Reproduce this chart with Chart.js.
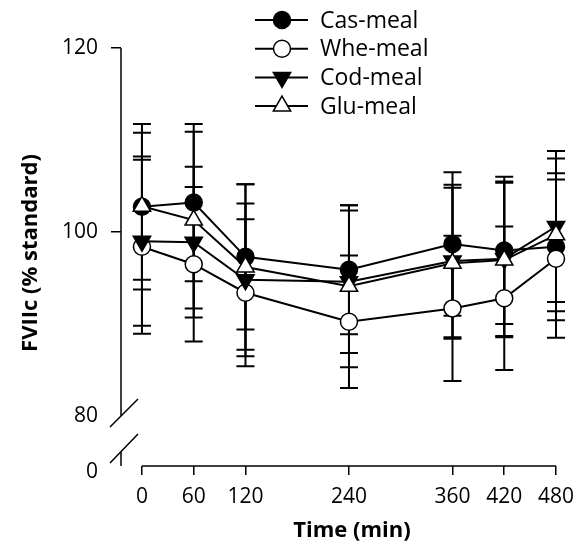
<!DOCTYPE html>
<html>
<head>
<meta charset="utf-8">
<script src="https://cdn.jsdelivr.net/npm/chart.js@4.4.0/dist/chart.umd.min.js"></script>
<style>
  html, body { margin: 0; padding: 0; background: #fff; }
</style>
</head>
<body>
<canvas id="fviiChart" width="586" height="556"></canvas>
<script>
// time points (min) and tick labels
const times = [0, 60, 120, 240, 360, 420, 480];
const xTicks = [0, 60, 120, 240, 360, 420, 480];
const yTicks = [80, 100, 120];

// FVIIc (% standard), mean and SD per meal
const casMean = [102.75, 103.2, 97.3, 95.9, 98.7, 98.0, 98.4];
const casSD   = [9.0, 8.55, 7.9, 7.0, 7.8, 8.0, 8.0];
const wheMean = [98.4, 96.5, 93.4, 90.25, 91.7, 92.8, 97.1];
const wheSD   = [9.45, 8.4, 8.0, 7.2, 7.9, 7.8, 8.6];
const codMean = [99.0, 98.9, 94.8, 94.6, 96.85, 97.1, 100.6];
const codSD   = [9.2, 8.2, 8.3, 7.75, 8.3, 8.4, 8.2];
const gluMean = [102.8, 101.3, 96.2, 94.1, 96.6, 96.95, 99.7];
const gluSD   = [8.0, 9.6, 9.0, 8.8, 8.2, 8.4, 8.3];

const FONT = '"Open Sans", "DejaVu Sans", sans-serif';
const Y_BOTTOM = 74.57;   // axis bottom, shown as "0" below the break
const ZERO_LABEL_AT = 73.9;

function toPoints(means) {
    return times.map((t, i) => ({ x: t, y: means[i] }));
}

function makeSet(label, means, sd, style, fill, rotation, radius, order) {
    return {
        label: label,
        data: toPoints(means),
        sd: sd,
        borderColor: '#000',
        borderWidth: 2,
        pointStyle: style,
        pointRotation: rotation,
        pointRadius: radius,
        pointBackgroundColor: fill,
        pointBorderColor: '#000',
        pointBorderWidth: 1.5,
        tension: 0,
        clip: false,
        order: order
    };
}

// draws one marker the same way Chart.js does (used for the legend)
function drawMarker(ctx, ds, x, y) {
    const r = ds.pointRadius;
    ctx.beginPath();
    if (ds.pointStyle === 'triangle') {
        let a = (ds.pointRotation || 0) * Math.PI / 180;
        ctx.moveTo(x + Math.sin(a) * r, y - Math.cos(a) * r);
        a += 2 * Math.PI / 3;
        ctx.lineTo(x + Math.sin(a) * r, y - Math.cos(a) * r);
        a += 2 * Math.PI / 3;
        ctx.lineTo(x + Math.sin(a) * r, y - Math.cos(a) * r);
        ctx.closePath();
    } else {
        ctx.arc(x, y, r, 0, Math.PI * 2);
    }
    ctx.fillStyle = ds.pointBackgroundColor;
    ctx.fill();
    ctx.lineWidth = ds.pointBorderWidth;
    ctx.strokeStyle = '#000';
    ctx.stroke();
}

const errorBars = {
    id: 'errorBars',
    beforeDatasetsDraw(chart) {
        const ctx = chart.ctx;
        const yScale = chart.scales.y;
        ctx.save();
        ctx.strokeStyle = '#000';
        ctx.lineWidth = 2;
        chart.data.datasets.forEach((ds, i) => {
            const meta = chart.getDatasetMeta(i);
            meta.data.forEach((pt, j) => {
                const m = ds.data[j].y;
                const top = yScale.getPixelForValue(m + ds.sd[j]);
                const bot = yScale.getPixelForValue(m - ds.sd[j]);
                ctx.beginPath();
                ctx.moveTo(pt.x, top);
                ctx.lineTo(pt.x, bot);
                ctx.moveTo(pt.x - 9, top);
                ctx.lineTo(pt.x + 9, top);
                ctx.moveTo(pt.x - 9, bot);
                ctx.lineTo(pt.x + 9, bot);
                ctx.stroke();
            });
        });
        ctx.restore();
    }
};

const axesAndLegend = {
    id: 'axesAndLegend',
    afterDraw(chart) {
        const ctx = chart.ctx;
        const area = chart.chartArea;
        const x = chart.scales.x;
        const y = chart.scales.y;
        const ax = area.left;
        const y80 = y.getPixelForValue(80);

        ctx.save();
        ctx.strokeStyle = '#000';
        ctx.lineWidth = 1.5;
        ctx.beginPath();
        // y axis with break
        ctx.moveTo(ax, y.getPixelForValue(120));
        ctx.lineTo(ax, y80);
        ctx.moveTo(ax - 11, y80 + 11);
        ctx.lineTo(ax + 17, y80 - 17);
        ctx.moveTo(ax - 11, y80 + 47);
        ctx.lineTo(ax + 17, y80 + 18);
        ctx.moveTo(ax, y80 + 35);
        ctx.lineTo(ax, area.bottom);
        // x axis
        ctx.moveTo(x.getPixelForValue(0), area.bottom);
        ctx.lineTo(x.getPixelForValue(480), area.bottom);
        ctx.stroke();

        // axis titles
        ctx.fillStyle = '#000';
        ctx.font = 'bold 22px ' + FONT;
        ctx.textAlign = 'center';
        ctx.textBaseline = 'middle';
        ctx.fillText('Time (min)', 352, 531);
        ctx.save();
        ctx.translate(31, (area.top + area.bottom) / 2 - 4);
        ctx.rotate(-Math.PI / 2);
        ctx.fillText('FVIIc (% standard)', 0, 0);
        ctx.restore();

        // legend
        ctx.font = '23px ' + FONT;
        ctx.textAlign = 'left';
        chart.data.datasets.forEach((ds, i) => {
            const ly = 20 + i * 28.7;
            ctx.beginPath();
            ctx.lineWidth = 2;
            ctx.moveTo(255, ly);
            ctx.lineTo(308, ly);
            ctx.stroke();
            drawMarker(ctx, ds, 282, ly);
            ctx.fillStyle = '#000';
            ctx.fillText(ds.label, 320, ly + 1);
        });
        ctx.restore();
    }
};

new Chart(document.getElementById('fviiChart').getContext('2d'), {
    type: 'line',
    data: {
        datasets: [
            makeSet('Cas-meal', casMean, casSD, 'circle', '#000', 0, 8.5, 3),
            makeSet('Whe-meal', wheMean, wheSD, 'circle', '#fff', 0, 8.5, 2),
            makeSet('Cod-meal', codMean, codSD, 'triangle', '#000', 180, 10, 1),
            makeSet('Glu-meal', gluMean, gluSD, 'triangle', '#fff', 0, 10, 0)
        ]
    },
    options: {
        responsive: false,
        animation: false,
        layout: { padding: { top: 48, right: 30, left: 0, bottom: 0 } },
        plugins: {
            legend: { display: false },
            tooltip: { enabled: false }
        },
        scales: {
            x: {
                type: 'linear',
                min: -24.3,
                max: 480,
                afterBuildTicks: s => { s.ticks = xTicks.map(v => ({ value: v })); },
                afterFit: s => { s.height = 90; },
                border: { display: false },
                grid: { drawOnChartArea: false, tickLength: 9, color: '#000', lineWidth: 1.5 },
                ticks: { color: '#000', padding: 9, maxRotation: 0, font: { family: FONT, size: 21 } }
            },
            y: {
                type: 'linear',
                min: Y_BOTTOM,
                max: 120,
                afterBuildTicks: s => { s.ticks = [ZERO_LABEL_AT].concat(yTicks).map(v => ({ value: v })); },
                afterFit: s => { s.width = 121; },
                border: { display: false },
                grid: {
                    drawOnChartArea: false,
                    tickLength: 10,
                    lineWidth: 1.5,
                    color: c => (c.tick && c.tick.value >= 100) ? '#000' : 'rgba(0,0,0,0)'
                },
                ticks: {
                    color: '#000',
                    padding: 13,
                    font: { family: FONT, size: 21 },
                    callback: v => v < 80 ? '0' : v
                }
            }
        }
    },
    plugins: [errorBars, axesAndLegend]
});
</script>
</body>
</html>
